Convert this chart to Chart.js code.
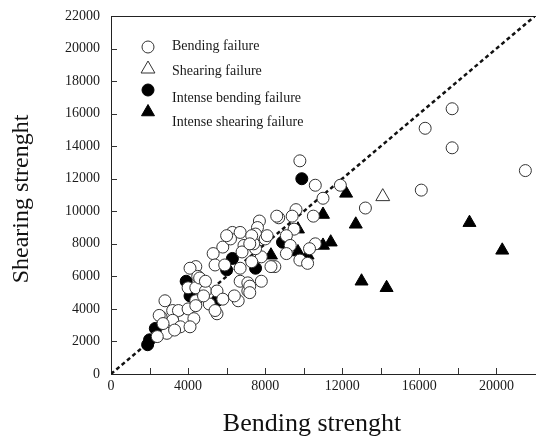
<!DOCTYPE html>
<html>
<head>
<meta charset="utf-8">
<script src="https://cdn.jsdelivr.net/npm/chart.js@4.4.1/dist/chart.umd.min.js"></script>
<style>
  html, body { margin: 0; padding: 0; background: #fff; }
</style>
</head>
<body>
<canvas id="myChart" width="537" height="440"></canvas>
<script>
// values (bending strength, shearing strength)
var bendingX = [17700, 16300, 17700, 21500, 16100, 13200, 11900, 9800, 10600, 11000,
    9600, 10500, 9400, 8700, 7700, 7600, 7500, 8000, 9500, 9100,
    9300, 9100, 10600, 10300, 9800, 10200, 8500, 7800, 7500, 5800,
    5300, 6900, 7400, 6800, 7300, 4400, 5400, 5900, 4800, 4000,
    4400, 4900, 5500, 4400, 5100, 5800, 5500, 6700, 6700, 7100,
    7100, 7800, 2800, 2600, 3200, 3500, 4000, 3200, 4300, 3600,
    2900, 2400, 4100, 6300, 6700, 6200, 7300, 7200, 4100, 4500,
    8300, 8600, 7200, 7200, 4400, 6600, 6400, 8100, 2500, 2700,
    4600, 4900, 5400, 4800, 6000, 3300];
var bendingY = [16300, 15100, 13900, 12500, 11300, 10200, 11600, 13100, 11600, 10800,
    10100, 9700, 9700, 9600, 9400, 9000, 8600, 8300, 8900, 8500,
    7900, 7400, 8000, 7700, 7000, 6800, 6600, 7200, 7700, 7800,
    7400, 7900, 8000, 7500, 6900, 6600, 6700, 6700, 5700, 5300,
    5300, 5100, 5100, 4500, 4300, 4600, 3700, 6500, 5700, 5600,
    5100, 5700, 4500, 3500, 3900, 3900, 4000, 3300, 3400, 2900,
    2500, 2300, 2900, 8700, 8700, 8300, 8500, 8000, 6500, 6000,
    6600, 9700, 5400, 5000, 4200, 4500, 4800, 8500, 3600, 3100,
    5900, 5700, 3900, 4800, 8500, 2700];

var shearingX = [14100];
var shearingY = [10900];

var intenseBendX = [1900, 2000, 2300, 3900, 4100, 5500, 6000, 6300, 7500, 8900, 9900];
var intenseBendY = [1800, 2100, 2800, 5700, 4800, 4500, 6400, 7100, 6500, 8100, 12000];

var intenseShearX = [18600, 20300, 13000, 14300, 12700, 12200, 11000, 9700, 11000, 11400, 9700, 10200, 8300];
var intenseShearY = [9300, 7600, 5700, 5300, 9200, 11100, 9800, 8900, 7900, 8100, 7500, 7300, 7300];

var diagX = [0, 22000];
var diagY = [0, 22000];

var axisMax = 22000;
var xTitle = 'Bending strenght';
var yTitle = 'Shearing strenght';

function pts(xs, ys) {
    return xs.map(function (x, i) { return { x: x, y: ys[i] }; });
}

var serif = "'Liberation Serif', 'DejaVu Serif', serif";

// legend drawn inside the plot, top left
var legendSpots = [
    { mx: 37, my: 31, ty: 30 },
    { mx: 37, my: 53, ty: 55 },
    { mx: 37, my: 74, ty: 82 },
    { mx: 37, my: 96, ty: 106 }
];

var insideLegend = {
    id: 'insideLegend',
    afterDraw: function (chart) {
        var ctx = chart.ctx, area = chart.chartArea;
        ctx.save();
        chart.data.datasets.forEach(function (ds) {
            if (ds.legendIndex === undefined) return;
            var s = legendSpots[ds.legendIndex];
            var x = area.left + s.mx, y = area.top + s.my;
            ctx.beginPath();
            if (ds.pointStyle === 'triangle') {
                var r = ds.pointRadius;
                ctx.moveTo(x, y - r);
                ctx.lineTo(x + r * 0.866, y + r * 0.5);
                ctx.lineTo(x - r * 0.866, y + r * 0.5);
                ctx.closePath();
            } else {
                ctx.arc(x, y, ds.pointRadius, 0, Math.PI * 2);
            }
            ctx.fillStyle = ds.backgroundColor;
            ctx.fill();
            ctx.lineWidth = ds.borderWidth;
            ctx.strokeStyle = ds.borderColor;
            ctx.stroke();
            ctx.fillStyle = '#1a1a1a';
            ctx.font = '14px ' + serif;
            ctx.textBaseline = 'middle';
            ctx.textAlign = 'left';
            ctx.fillText(ds.label, area.left + 61, area.top + s.ty);
        });
        ctx.restore();
    }
};

// tick marks pointing into the plot, plus the two axis titles
var innerTicks = {
    id: 'innerTicks',
    beforeDatasetsDraw: function (chart) {
        var ctx = chart.ctx, area = chart.chartArea;
        var xs = chart.scales.x, ys = chart.scales.y;
        ctx.save();
        ctx.strokeStyle = '#333';
        ctx.lineWidth = 1;
        ctx.beginPath();
        xs.ticks.forEach(function (t) {
            if (t.value <= 0 || t.value >= axisMax) return;
            var px = Math.round(xs.getPixelForValue(t.value)) + 0.5;
            ctx.moveTo(px, area.bottom);
            ctx.lineTo(px, area.bottom - 6);
        });
        ys.ticks.forEach(function (t) {
            if (t.value <= 0 || t.value >= axisMax) return;
            var py = Math.round(ys.getPixelForValue(t.value)) + 0.5;
            ctx.moveTo(area.left, py);
            ctx.lineTo(area.left + 6, py);
        });
        ctx.stroke();

        ctx.fillStyle = '#111';
        ctx.textAlign = 'center';
        ctx.textBaseline = 'middle';
        ctx.font = '26px ' + serif;
        ctx.fillText(xTitle, 312, 424);
        ctx.translate(22, 199);
        ctx.rotate(-Math.PI / 2);
        ctx.font = '24px ' + serif;
        ctx.fillText(yTitle, 0, 0);
        ctx.restore();
    }
};

var ctx = document.getElementById('myChart');
var myChart = new Chart(ctx, {
    type: 'scatter',
    data: {
        datasets: [{
            label: 'Bending failure',
            legendIndex: 0,
            data: pts(bendingX, bendingY),
            pointStyle: 'circle',
            pointRadius: 6,
            borderWidth: 1,
            borderColor: '#333',
            backgroundColor: '#fff',
            order: 1
        }, {
            label: 'Shearing failure',
            legendIndex: 1,
            data: pts(shearingX, shearingY),
            pointStyle: 'triangle',
            pointRadius: 8,
            borderWidth: 1,
            borderColor: '#333',
            backgroundColor: '#fff',
            order: 2
        }, {
            label: 'Intense bending failure',
            legendIndex: 2,
            data: pts(intenseBendX, intenseBendY),
            pointStyle: 'circle',
            pointRadius: 6,
            borderWidth: 1,
            borderColor: '#000',
            backgroundColor: '#000',
            order: 4
        }, {
            label: 'Intense shearing failure',
            legendIndex: 3,
            data: pts(intenseShearX, intenseShearY),
            pointStyle: 'triangle',
            pointRadius: 7.5,
            borderWidth: 1,
            borderColor: '#000',
            backgroundColor: '#000',
            order: 3
        }, {
            type: 'line',
            label: 'diagonal',
            data: pts(diagX, diagY),
            showLine: true,
            fill: false,
            pointRadius: 0,
            borderColor: '#111',
            borderWidth: 2.5,
            borderDash: [4, 3],
            order: 6
        }]
    },
    options: {
        responsive: false,
        animation: false,
        devicePixelRatio: 1,
        layout: { autoPadding: false, padding: { top: 16, right: 2, left: 0, bottom: 0 } },
        plugins: {
            legend: { display: false },
            tooltip: { enabled: false }
        },
        scales: {
            x: {
                type: 'linear',
                position: 'bottom',
                min: 0,
                max: axisMax,
                afterFit: function (s) { s.height = 66; s.paddingLeft = 0; s.paddingRight = 0; },
                grid: { display: false, drawTicks: false },
                border: { display: true, color: '#222', width: 1 },
                ticks: {
                    stepSize: 2000,
                    padding: 4,
                    color: '#1a1a1a',
                    font: { family: serif, size: 14 },
                    autoSkip: false,
                    maxRotation: 0,
                    callback: function (v) { return v % 4000 === 0 ? String(v) : ''; }
                }
            },
            xTop: {
                type: 'linear',
                position: 'top',
                min: 0,
                max: axisMax,
                afterFit: function (s) { s.height = 0; s.paddingLeft = 0; s.paddingRight = 0; },
                grid: { display: false, drawTicks: false },
                border: { display: true, color: '#222', width: 1 },
                ticks: { display: false }
            },
            y: {
                type: 'linear',
                min: 0,
                max: axisMax,
                afterFit: function (s) { s.width = 111; s.paddingTop = 0; s.paddingBottom = 0; },
                grid: { display: false, drawTicks: false },
                border: { display: true, color: '#222', width: 1 },
                ticks: {
                    stepSize: 2000,
                    padding: 11,
                    color: '#1a1a1a',
                    font: { family: serif, size: 14 },
                    callback: function (v) { return String(v); }
                }
            }
        }
    },
    plugins: [innerTicks, insideLegend]
});
</script>
</body>
</html>
